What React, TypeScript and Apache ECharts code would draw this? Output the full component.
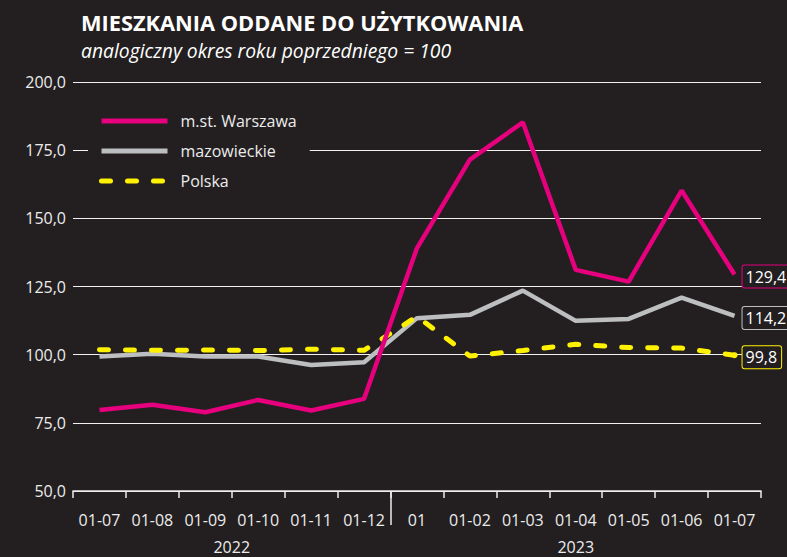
import React, { useEffect, useRef } from "react";
import * as echarts from "echarts";

const categories = ["01-07", "01-08", "01-09", "01-10", "01-11", "01-12", "01", "01-02", "01-03", "01-04", "01-05", "01-06", "01-07"];
const warszawa = [79.7, 81.6, 78.9, 83.4, 79.5, 83.8, 139.1, 171.5, 185.2, 131.1, 126.8, 160.2, 129.4];
const mazowieckie = [99.3, 100.3, 99.3, 99.3, 96.2, 97.2, 113.4, 114.6, 123.5, 112.4, 113.1, 120.9, 114.2];
const polska = [101.8, 101.6, 101.7, 101.5, 102.0, 101.6, 114.0, 99.5, 101.5, 103.8, 102.6, 102.4, 99.8];
const years = ["2022", "2023"];
const yearSpans = [6, 7];
const yTicks = { min: 50, max: 200, interval: 25 };

const BG = "#231f20";
const TXT = "#ececec";
const FONT = "'Open Sans', sans-serif";

const fmt = (v: number) => v.toFixed(1).replace(".", ",");

export default function App() {
  const ref = useRef<HTMLDivElement>(null);
  useEffect(() => {
    document.body.style.margin = "0";
    document.body.style.background = BG;
    const chart = echarts.init(ref.current!, null, { renderer: "svg" });
    const yearStarts: number[] = [];
    let acc = 0;
    yearSpans.forEach((s) => { yearStarts.push(acc); acc += s; });
    const yearCenters = yearSpans.map((s, i) => yearStarts[i] + s / 2);
    const separators = yearStarts.slice(1);
    const last = categories.length - 1;
    const endLabel = (color: string) => ({
      show: true,
      formatter: (p: any) => fmt(p.value),
      color: "#ffffff",
      fontFamily: FONT,
      fontSize: 16,
      lineHeight: 17,
      backgroundColor: BG,
      borderColor: color,
      borderWidth: 1,
      borderRadius: 2,
      padding: [3, 4, 2, 3],
      distance: 8,
      offset: [0, 2],
    });
    chart.setOption({
      animation: false,
      backgroundColor: BG,
      textStyle: { fontFamily: FONT },
      title: {
        left: 81,
        top: 11,
        padding: 0,
        itemGap: 7,
        text: "MIESZKANIA ODDANE DO UŻYTKOWANIA",
        subtext: "analogiczny okres roku poprzedniego = 100",
        textStyle: { color: "#ffffff", fontFamily: FONT, fontWeight: "bold", fontSize: 21.8, lineHeight: 22 },
        subtextStyle: { color: "#ffffff", fontFamily: FONT, fontStyle: "italic", fontSize: 19.3, lineHeight: 20 },
      },
      legend: {
        orient: "vertical",
        left: 88,
        top: 106,
        backgroundColor: BG,
        padding: [7, 13, 7, 11],
        itemWidth: 66,
        itemHeight: 14,
        itemGap: 14,
        data: ["m.st. Warszawa", "mazowieckie", "Polska"],
        textStyle: { color: TXT, fontFamily: FONT, fontSize: 16, lineHeight: 16, padding: [0, 0, 0, 8] },
        itemStyle: { opacity: 0 },
        lineStyle: { width: 5 },
      },
      grid: { left: 73, right: 26, top: 82, bottom: 66 },
      xAxis: [
        {
          type: "category",
          data: categories,
          boundaryGap: true,
          axisLine: { lineStyle: { color: TXT, width: 1.5 } },
          axisTick: { show: true, length: 7, lineStyle: { color: TXT, width: 1.5 } },
          axisLabel: { color: TXT, fontFamily: FONT, fontSize: 16, margin: 21, interval: 0 },
        },
        {
          type: "value",
          position: "bottom",
          min: 0,
          max: acc,
          axisLine: { show: false },
          splitLine: { show: false },
          axisTick: { show: true, length: 34, customValues: separators, lineStyle: { color: TXT, width: 1.5 } },
          axisLabel: {
            show: true,
            customValues: yearCenters,
            color: TXT,
            fontFamily: FONT,
            fontSize: 16,
            lineHeight: 16,
            margin: 48,
            formatter: (v: number) => {
              const i = yearCenters.indexOf(v);
              return i >= 0 ? years[i] : "";
            },
          },
        },
      ],
      yAxis: {
        type: "value",
        min: yTicks.min,
        max: yTicks.max,
        interval: yTicks.interval,
        axisLine: { show: false },
        axisTick: { show: false },
        splitLine: { show: true, lineStyle: { color: "#f0f0f0", width: 1.2 } },
        axisLabel: { color: TXT, fontFamily: FONT, fontSize: 16, margin: 7, formatter: (v: number) => fmt(v) },
      },
      series: [
        {
          name: "mazowieckie",
          type: "line",
          data: mazowieckie,
          symbol: "none",
          lineStyle: { color: "#bcbec0", width: 4.5 },
          itemStyle: { color: "#bcbec0" },
          endLabel: endLabel("#bcbec0"),
          z: 3,
        },
        {
          name: "Polska",
          type: "line",
          data: polska,
          symbol: "circle",
          showSymbol: true,
          symbolSize: (_v: any, p: any) => (p.dataIndex === last ? 6 : 0),
          lineStyle: { color: "#fff200", width: 5, type: [9, 17], cap: "round" },
          itemStyle: { color: "#fff200" },
          endLabel: endLabel("#fff200"),
          z: 4,
        },
        {
          name: "m.st. Warszawa",
          type: "line",
          data: warszawa,
          symbol: "none",
          lineStyle: { color: "#e6007e", width: 4.5 },
          itemStyle: { color: "#e6007e" },
          endLabel: endLabel("#e6007e"),
          z: 5,
        },
      ],
    });
    return () => chart.dispose();
  }, []);
  return <div ref={ref} style={{ width: 787, height: 557, background: BG }} />;
}
